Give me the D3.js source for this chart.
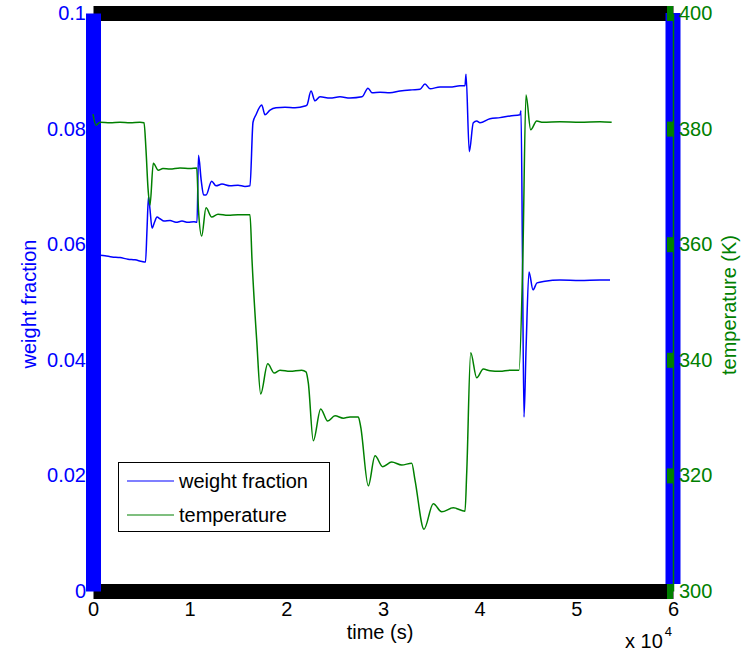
<!DOCTYPE html>
<html>
<head>
<meta charset="utf-8">
<script src="https://cdn.jsdelivr.net/npm/d3@7"></script>
<style>
  html, body { margin: 0; padding: 0; background: #fff; }
  svg { display: block; font-family: "Liberation Sans", Arial, Helvetica, sans-serif; }
</style>
</head>
<body>
<svg id="chart" width="752" height="653"></svg>
<script>
// Time axis ticks (seconds) and y-axis ticks for both axes
const timeTicks = [0, 10000, 20000, 30000, 40000, 50000, 60000];
const weightTicks = [0, 0.02, 0.04, 0.06, 0.08, 0.1];
const weightTickLabels = ["0", "0.02", "0.04", "0.06", "0.08", "0.1"];
const tempTicks = [300, 320, 340, 360, 380, 400];

// Weight fraction response
const timeW = [724, 1241, 1966, 2793, 3621, 4345, 5069, 5431, 5586, 5741, 5897, 6104, 6362, 6621, 6931, 7345,
  7966, 8586, 9207, 9828, 10448, 10759, 10914, 11190, 11448, 11690, 12279, 12724, 13345, 14172, 15000, 15724,
  16241, 16552, 16862, 17452, 17793, 18310, 18931, 19862, 20897, 21931, 22138, 22552, 22966, 23483, 24517,
  25552, 26586, 27828, 28448, 28862, 29690, 30724, 31759, 33000, 33828, 34345, 34862, 35897, 36931, 37966,
  38483, 38586, 38928, 39341, 39693, 40035, 41069, 42104, 43138, 44172, 44276, 44431, 44586, 44800, 45103,
  45517, 45931, 46759, 48310, 50379, 52448, 53483];
const weightFraction = [0.0581, 0.0580, 0.0578, 0.0577, 0.0574, 0.0573, 0.0570, 0.0569, 0.0625, 0.0682, 0.0660,
  0.0628, 0.0638, 0.0647, 0.0644, 0.0640, 0.0641, 0.0638, 0.0640, 0.0638, 0.0639, 0.0638, 0.0754, 0.0711,
  0.0685, 0.0685, 0.0709, 0.0701, 0.0704, 0.0701, 0.0702, 0.0700, 0.0701, 0.0811, 0.0824, 0.0841, 0.0824,
  0.0832, 0.0836, 0.0837, 0.0836, 0.0839, 0.0841, 0.0865, 0.0848, 0.0855, 0.0853, 0.0855, 0.0853, 0.0855,
  0.0870, 0.0862, 0.0863, 0.0862, 0.0865, 0.0867, 0.0868, 0.0877, 0.0869, 0.0872, 0.0872, 0.0874, 0.0874,
  0.0894, 0.0760, 0.0810, 0.0813, 0.0810, 0.0817, 0.0819, 0.0822, 0.0824, 0.0831, 0.0573, 0.0301, 0.0420,
  0.0552, 0.0521, 0.0533, 0.0536, 0.0538, 0.0537, 0.0538, 0.0538];

// Temperature response
const timeT = [0, 310, 724, 1759, 2793, 3828, 4862, 5276, 5483, 5690, 5897, 6238, 6755, 7241, 7966, 9000, 10035,
  10728, 10914, 11245, 11690, 12279, 12931, 13966, 15000, 16241, 16448, 16934, 17348, 18072, 18755, 19345,
  20380, 21590, 22035, 22273, 22790, 23555, 24279, 25035, 25894, 26586, 27445, 27693, 28479, 29173, 29969,
  30900, 31935, 32969, 33311, 34242, 35204, 36073, 37273, 38483, 38659, 39073, 39693, 40376, 41069, 42104,
  43138, 44069, 44462, 44793, 45279, 45900, 46552, 48310, 50379, 52448, 53655];
const temperature = [382.5, 380.6, 381.1, 381.0, 381.1, 381.0, 381.1, 381.0, 376.3, 369.7, 366.8, 374.0, 372.8,
  373.1, 373.0, 373.2, 373.1, 373.2, 365.9, 361.4, 366.3, 364.7, 365.2, 365.0, 365.1, 365.1, 357.3, 343.4,
  334.1, 339.3, 337.7, 338.2, 338.0, 338.2, 337.9, 336.0, 326.0, 331.5, 329.4, 330.3, 329.9, 330.1, 330.1,
  328.4, 318.2, 323.4, 321.5, 322.3, 321.8, 322.1, 319.2, 310.7, 315.1, 313.7, 314.4, 313.8, 320.4, 341.2,
  336.9, 338.4, 338.1, 338.0, 338.2, 338.2, 357.3, 385.8, 379.8, 381.3, 381.1, 381.2, 381.1, 381.2, 381.1];

const BLUE = "#0000ff";
const GREEN = "#008000";
const FONT = 20;

const svg = d3.select("#chart");

const x = d3.scaleLinear().domain([0, 60000]).range([93, 673]);
const yL = d3.scaleLinear().domain([0, 0.1]).range([591, 13]);
const yR = d3.scaleLinear().domain([300, 400]).range([591, 13]);

// Top and bottom frame (thick black)
const topAxis = svg.append("g").attr("transform", `translate(0,${yL.range()[1]})`)
  .call(d3.axisTop(x).tickValues(timeTicks).tickSize(0).tickFormat(""));
topAxis.select(".domain").attr("stroke", "#000").attr("stroke-width", 15);

const bottomAxis = svg.append("g").attr("transform", `translate(0,${yL.range()[0]})`)
  .call(d3.axisBottom(x).tickValues(timeTicks).tickSize(0).tickPadding(11).tickFormat(d => d / 1e4));
bottomAxis.select(".domain").attr("stroke", "#000").attr("stroke-width", 15);
bottomAxis.selectAll("text").attr("font-size", FONT).attr("fill", "#000").attr("font-family", null);

// Left axis (weight fraction)
const leftAxis = svg.append("g").attr("transform", `translate(${x.range()[0]},0)`)
  .call(d3.axisLeft(yL).tickValues(weightTicks).tickSize(0).tickPadding(7)
    .tickFormat((d, i) => weightTickLabels[i]));
leftAxis.select(".domain").attr("stroke", BLUE).attr("stroke-width", 15);
leftAxis.selectAll("text").attr("font-size", FONT).attr("fill", BLUE).attr("font-family", null);

// Right edge of the weight-fraction box
svg.append("line")
  .attr("x1", x.range()[1]).attr("x2", x.range()[1])
  .attr("y1", yL.range()[1]).attr("y2", yL.range()[0] - 7)
  .attr("stroke", BLUE).attr("stroke-width", 15);

// Right axis (temperature)
const rightAxis = svg.append("g").attr("transform", `translate(${x.range()[1]},0)`)
  .call(d3.axisRight(yR).tickValues(tempTicks).tickSizeInner(-6).tickSizeOuter(0).tickPadding(6));
rightAxis.select(".domain").attr("stroke", GREEN).attr("stroke-width", 1.5);
rightAxis.selectAll(".tick line").attr("stroke", GREEN).attr("stroke-width", 15);
rightAxis.selectAll("text").attr("font-size", FONT).attr("fill", GREEN).attr("font-family", null);

// Data lines (smooth through the sampled response)
const lineW = d3.line().curve(d3.curveMonotoneX).x((d, i) => x(timeW[i])).y(d => yL(d));
const lineT = d3.line().curve(d3.curveMonotoneX).x((d, i) => x(timeT[i])).y(d => yR(d));

svg.append("path").datum(weightFraction)
  .attr("d", lineW).attr("fill", "none").attr("stroke", BLUE).attr("stroke-width", 1.5)
  .attr("stroke-linejoin", "round");
svg.append("path").datum(temperature)
  .attr("d", lineT).attr("fill", "none").attr("stroke", GREEN).attr("stroke-width", 1.5)
  .attr("stroke-linejoin", "round");

// Axis titles
svg.append("text").attr("transform", "translate(36,304) rotate(-90)")
  .attr("text-anchor", "middle").attr("font-size", FONT).attr("fill", BLUE).text("weight fraction");
svg.append("text").attr("transform", "translate(736,305) rotate(-90)")
  .attr("text-anchor", "middle").attr("font-size", FONT).attr("fill", GREEN).text("temperature (K)");
svg.append("text").attr("x", 380).attr("y", 639)
  .attr("text-anchor", "middle").attr("font-size", FONT).attr("fill", "#000").text("time (s)");

const expo = svg.append("text").attr("x", 625).attr("y", 648).attr("font-size", FONT).attr("fill", "#000");
expo.append("tspan").text("x 10");
expo.append("tspan").attr("font-size", 13).attr("dx", 2).attr("dy", -12).text("4");

// Legend
const legend = svg.append("g");
legend.append("rect").attr("x", 118.5).attr("y", 462.5).attr("width", 211).attr("height", 69)
  .attr("fill", "#fff").attr("stroke", "#000").attr("stroke-width", 1);
const legendItems = [
  { label: "weight fraction", color: BLUE, y: 481 },
  { label: "temperature", color: GREEN, y: 515 }
];
legendItems.forEach(item => {
  legend.append("line").attr("x1", 127).attr("x2", 174).attr("y1", item.y).attr("y2", item.y)
    .attr("stroke", item.color).attr("stroke-width", 1.2);
  legend.append("text").attr("x", 179).attr("y", item.y).attr("dy", "0.35em")
    .attr("font-size", FONT).attr("fill", "#000").text(item.label);
});
</script>
</body>
</html>
